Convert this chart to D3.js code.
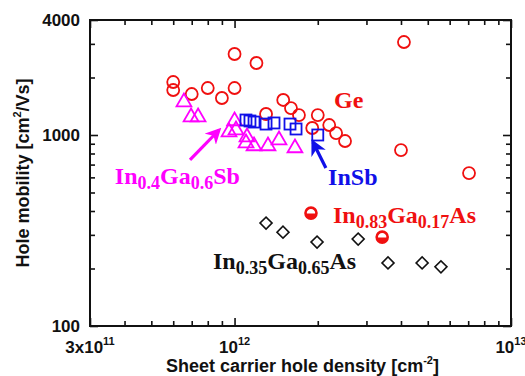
<!DOCTYPE html>
<html>
<head>
<meta charset="utf-8">
<title>Hole mobility vs sheet density</title>
<style>
  body { margin: 0; background: #fff; }
  .tick-label { font-family: "Liberation Sans", Arial, sans-serif; font-weight: bold; fill: #111; }
  .ann { font-family: "Liberation Serif", "Times New Roman", serif; font-weight: bold; }
</style>
</head>
<body>
<svg id="chart"></svg>
<script src="https://d3js.org/d3.v7.min.js"></script>
<script>
// Ge (open red circles): density [cm^-2], mobility [cm2/Vs]
var geX = [6.0e11, 6.0e11, 7.0e11, 8.0e11, 9.0e11, 1.0e12, 1.0e12, 1.2e12, 1.3e12, 1.5e12,
           1.6e12, 1.71e12, 2.0e12, 1.91e12, 2.2e12, 2.33e12, 2.51e12, 4.1e12, 4.0e12, 7.05e12];
var geY = [1894, 1720, 1639, 1762, 1562, 1762, 2655, 2382, 1288, 1525,
           1384, 1272, 1272, 1088, 1128, 1024, 930, 3068, 834, 632];

// InSb (open blue squares)
var insbX = [1.10e12, 1.137e12, 1.176e12, 1.30e12, 1.389e12, 1.587e12, 1.669e12, 2.0e12];
var insbY = [1198, 1184, 1169, 1141, 1156, 1141, 1075, 1000];

// In0.4Ga0.6Sb (open magenta triangles)
var ingasbX = [6.56e11, 6.96e11, 7.38e11, 1.0e12, 9.55e11, 1.012e12, 1.109e12, 1.10e12, 1.176e12, 1.321e12, 1.448e12, 1.654e12];
var ingasbY = [1488, 1242, 1242, 1184, 1036, 1062, 976, 908, 876, 876, 941, 855];

// In0.35Ga0.65As (open black diamonds)
var ingaas35X = [1.30e12, 1.497e12, 1.988e12, 2.80e12, 3.59e12, 4.77e12, 5.58e12];
var ingaas35Y = [346, 310, 275, 285, 214, 214, 204];

// In0.83Ga0.17As (half filled red circles)
var ingaas83X = [1.89e12, 3.42e12];
var ingaas83Y = [390, 292];

// axis ticks
var xMajor = [3e11, 1e12, 1e13];
var xMinor = [4e11, 5e11, 6e11, 7e11, 8e11, 9e11, 2e12, 3e12, 4e12, 5e12, 6e12, 7e12, 8e12, 9e12];
var yMajor = [100, 1000, 4000];
var yMinor = [200, 300, 400, 500, 600, 700, 800, 900, 2000, 3000];
var xTickLabels = [["3x10", "11"], ["10", "12"], ["10", "13"]];
var yTickLabels = ["100", "1000", "4000"];

var width = 525, height = 376;
var margin = {left: 90, right: 14, top: 20, bottom: 50};

var svg = d3.select("#chart").attr("width", width).attr("height", height);

var x = d3.scaleLog().domain([3e11, 1e13]).range([margin.left, width - margin.right]);
var y = d3.scaleLog().domain([100, 4000]).range([height - margin.bottom, margin.top]);

var x0 = x.range()[0], x1 = x.range()[1], y0 = y.range()[0], y1 = y.range()[1];

// inward ticks on all four sides
function tickAxis(axisFn, vals, size, tx, ty) {
  var g = svg.append("g")
    .attr("transform", "translate(" + tx + "," + ty + ")")
    .call(axisFn.tickValues(vals).tickSize(size).tickFormat(""));
  g.select(".domain").remove();
  g.selectAll("line").attr("stroke", "#111").attr("stroke-width", 1.6);
}
tickAxis(d3.axisBottom(x), xMajor, -8, 0, y0);
tickAxis(d3.axisBottom(x), xMinor, -5, 0, y0);
tickAxis(d3.axisTop(x), xMajor, -8, 0, y1);
tickAxis(d3.axisTop(x), xMinor, -5, 0, y1);
tickAxis(d3.axisLeft(y), yMajor, -8, x0, 0);
tickAxis(d3.axisLeft(y), yMinor, -5, x0, 0);
tickAxis(d3.axisRight(y), yMajor, -8, x1, 0);
tickAxis(d3.axisRight(y), yMinor, -5, x1, 0);

svg.append("rect")
  .attr("x", x0).attr("y", y1)
  .attr("width", x1 - x0).attr("height", y0 - y1)
  .attr("fill", "none").attr("stroke", "#111").attr("stroke-width", 2);

// tick labels
yMajor.forEach(function(v, i) {
  svg.append("text").attr("class", "tick-label")
    .attr("x", x0 - 10).attr("y", y(v) + 6)
    .attr("text-anchor", "end").attr("font-size", 17)
    .text(yTickLabels[i]);
});
xMajor.forEach(function(v, i) {
  var t = svg.append("text").attr("class", "tick-label")
    .attr("x", x(v)).attr("y", y0 + 27)
    .attr("text-anchor", "middle").attr("font-size", 17);
  t.append("tspan").text(xTickLabels[i][0]);
  t.append("tspan").attr("font-size", 11).attr("dy", -8).text(xTickLabels[i][1]);
});

// axis titles
var xt = svg.append("text").attr("class", "tick-label")
  .attr("x", (x0 + x1) / 2 + 2).attr("y", height - 4)
  .attr("text-anchor", "middle").attr("font-size", 18);
xt.append("tspan").text("Sheet carrier hole density [cm");
xt.append("tspan").attr("font-size", 11).attr("dy", -8).text("-2");
xt.append("tspan").attr("dy", 8).text("]");

var yt = svg.append("text").attr("class", "tick-label")
  .attr("transform", "translate(29," + ((y0 + y1) / 2) + ") rotate(-90)")
  .attr("text-anchor", "middle").attr("font-size", 18);
yt.append("tspan").text("Hole mobility [cm");
yt.append("tspan").attr("font-size", 11).attr("dy", -8).text("2");
yt.append("tspan").attr("dy", 8).text("/Vs]");

function pts(xs, ys) { return xs.map(function(d, i) { return [d, ys[i]]; }); }

var plot = svg.append("g");

// Ge circles
plot.selectAll(".ge").data(pts(geX, geY)).enter().append("circle")
  .attr("cx", function(d) { return x(d[0]); })
  .attr("cy", function(d) { return y(d[1]); })
  .attr("r", 6).attr("fill", "none").attr("stroke", "#f01010").attr("stroke-width", 1.8);

// In0.4Ga0.6Sb triangles
var tri = d3.symbol().type(d3.symbolTriangle).size(95);
plot.selectAll(".tri").data(pts(ingasbX, ingasbY)).enter().append("path")
  .attr("d", tri)
  .attr("transform", function(d) { return "translate(" + x(d[0]) + "," + y(d[1]) + ")"; })
  .attr("fill", "none").attr("stroke", "#ff00ff").attr("stroke-width", 1.8);

// InSb squares
plot.selectAll(".sq").data(pts(insbX, insbY)).enter().append("rect")
  .attr("x", function(d) { return x(d[0]) - 5.5; })
  .attr("y", function(d) { return y(d[1]) - 5.5; })
  .attr("width", 11).attr("height", 11)
  .attr("fill", "none").attr("stroke", "#1010e8").attr("stroke-width", 1.8);

// In0.35Ga0.65As diamonds
var dia = d3.symbol().type(d3.symbolSquare).size(72);
plot.selectAll(".dia").data(pts(ingaas35X, ingaas35Y)).enter().append("path")
  .attr("d", dia)
  .attr("transform", function(d) { return "translate(" + x(d[0]) + "," + y(d[1]) + ") rotate(45)"; })
  .attr("fill", "none").attr("stroke", "#111").attr("stroke-width", 1.6);

// In0.83Ga0.17As half filled circles
var half = plot.selectAll(".half").data(pts(ingaas83X, ingaas83Y)).enter().append("g")
  .attr("transform", function(d) { return "translate(" + x(d[0]) + "," + y(d[1]) + ")"; });
half.append("circle").attr("r", 5.5).attr("fill", "#fff").attr("stroke", "#f01010").attr("stroke-width", 2.6);
half.append("path").attr("d", "M-5.5,0.5 A5.5,5.5 0 0 0 5.5,0.5 Z").attr("fill", "#f01010");

// arrows
var defs = svg.append("defs");
[["mag", "#ff00ff"], ["blu", "#1010e8"]].forEach(function(m) {
  defs.append("marker").attr("id", "arr-" + m[0])
    .attr("viewBox", "0 0 10 10").attr("refX", 8).attr("refY", 5)
    .attr("markerWidth", 5).attr("markerHeight", 5).attr("orient", "auto")
    .append("path").attr("d", "M0,0 L10,5 L0,10 L3,5 Z").attr("fill", m[1]);
});
var arrows = [
  {from: [6.9e11, 740], to: [8.79e11, 1062], color: "#ff00ff", id: "mag"},
  {from: [2.14e12, 672], to: [1.92e12, 919], color: "#1010e8", id: "blu"}
];
arrows.forEach(function(a) {
  svg.append("line")
    .attr("x1", x(a.from[0])).attr("y1", y(a.from[1]))
    .attr("x2", x(a.to[0])).attr("y2", y(a.to[1]))
    .attr("stroke", a.color).attr("stroke-width", 3.2)
    .attr("marker-end", "url(#arr-" + a.id + ")");
});

// series labels: pieces of [text, isSubscript]
var labels = [
  {at: [2.29e12, 1384], color: "#f01010", parts: [["Ge", 0]]},
  {at: [2.18e12, 547], color: "#1010e8", parts: [["InSb", 0]]},
  {at: [3.69e11, 554], color: "#ff00ff", parts: [["In", 0], ["0.4", 1], ["Ga", 0], ["0.6", 1], ["Sb", 0]]},
  {at: [2.27e12, 346], color: "#f01010", parts: [["In", 0], ["0.83", 1], ["Ga", 0], ["0.17", 1], ["As", 0]]},
  {at: [8.36e11, 199], color: "#111", parts: [["In", 0], ["0.35", 1], ["Ga", 0], ["0.65", 1], ["As", 0]]}
];
labels.forEach(function(l) {
  var t = svg.append("text").attr("class", "ann")
    .attr("x", x(l.at[0])).attr("y", y(l.at[1]))
    .attr("fill", l.color).attr("font-size", 24);
  var prevSub = 0;
  l.parts.forEach(function(p) {
    var ts = t.append("tspan").text(p[0]);
    if (p[1]) ts.attr("font-size", 18);
    if (p[1] !== prevSub) ts.attr("dy", p[1] ? 5 : -5);
    prevSub = p[1];
  });
});
</script>
</body>
</html>
